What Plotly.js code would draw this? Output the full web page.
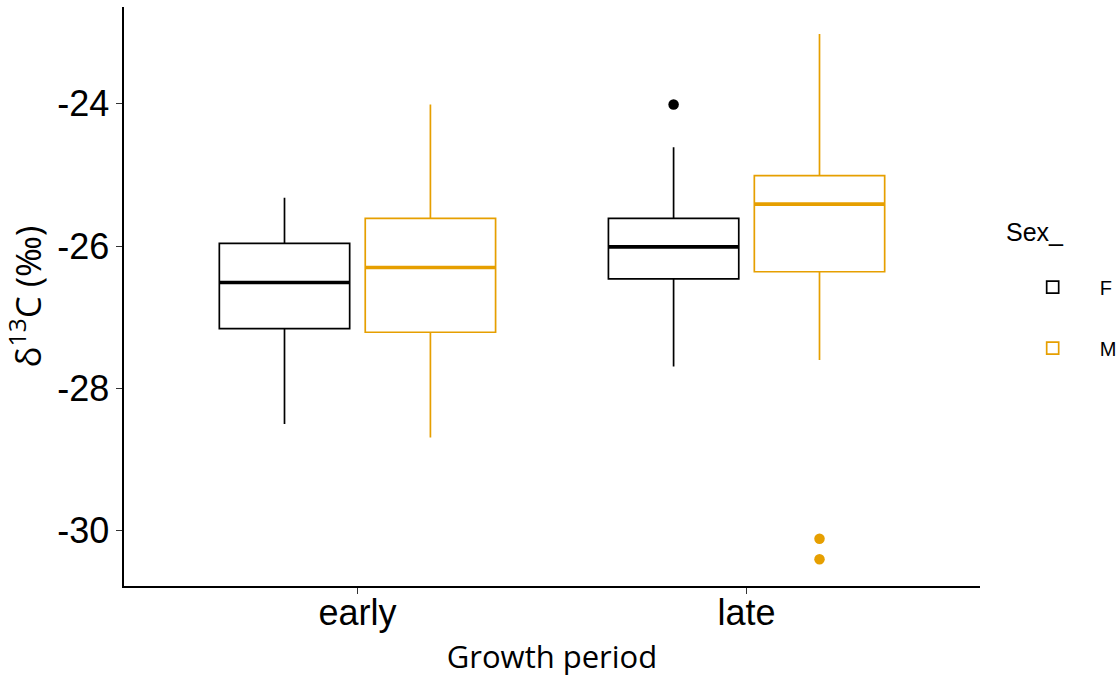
<!DOCTYPE html>
<html>
<head>
<meta charset="utf-8">
<script src="https://cdn.plot.ly/plotly-3.0.1.min.js"></script>
<style>html,body{margin:0;padding:0;background:#fff;}#chart{width:1119px;height:677px;}</style>
</head>
<body>
<div id="chart"></div>
<script>
// ---- data ----
const periods = ['early', 'late'];
const sexes = ['F', 'M'];

const q1F  = [-27.16, -26.46];
const medF = [-26.51, -26.01];
const q3F  = [-25.96, -25.61];
const loF  = [-28.50, -27.69];
const hiF  = [-25.32, -24.61];

const q1M  = [-27.21, -26.36];
const medM = [-26.30, -25.41];
const q3M  = [-25.61, -25.01];
const loM  = [-28.69, -27.60];
const hiM  = [-24.01, -23.02];

const outF_period = ['late'];
const outF_value  = [-24.01];
const outM_period = ['late', 'late'];
const outM_value  = [-30.11, -30.40];

const yTicks = [-30, -28, -26, -24];

// ---- styling ----
const colF = '#000000';
const colM = '#E69F00';
const dodge = 0.1875;
const boxW = 0.335;

function pos(p, sexIdx) {
  return periods.indexOf(p) + 1 + (sexIdx === 0 ? -dodge : dodge);
}

const groups = [
  {name: sexes[0], q1: q1F, med: medF, q3: q3F, lo: loF, hi: hiF, op: outF_period, ov: outF_value, col: colF},
  {name: sexes[1], q1: q1M, med: medM, q3: q3M, lo: loM, hi: hiM, op: outM_period, ov: outM_value, col: colM}
];

const traces = [];
groups.forEach((g, si) => {
  const xs = periods.map(p => pos(p, si));
  traces.push({
    type: 'box', name: g.name, legendgroup: g.name,
    x: xs, q1: g.q1, median: g.med, q3: g.q3, lowerfence: g.lo, upperfence: g.hi,
    width: boxW, boxpoints: false, whiskerwidth: 0,
    line: {color: g.col, width: 1.7}, fillcolor: 'rgba(255,255,255,0)',
    hoverinfo: 'skip'
  });
  // thicker median line (ggplot style)
  const mx = [], my = [];
  xs.forEach((x, i) => { mx.push(x - boxW / 2, x + boxW / 2, null); my.push(g.med[i], g.med[i], null); });
  traces.push({
    type: 'scatter', mode: 'lines', x: mx, y: my, legendgroup: g.name, showlegend: false,
    line: {color: g.col, width: 3.6}, hoverinfo: 'skip'
  });
  // outliers
  traces.push({
    type: 'scatter', mode: 'markers', legendgroup: g.name, showlegend: false,
    x: g.op.map(p => pos(p, si)), y: g.ov,
    marker: {color: g.col, size: 10.5, symbol: 'circle'}, hoverinfo: 'skip'
  });
});

const layout = {
  width: 1119, height: 677,
  margin: {l: 124, r: 139, t: 7, b: 91, pad: 0, autoexpand: false},
  paper_bgcolor: '#fff', plot_bgcolor: '#fff',
  font: {family: 'Liberation Sans, Arial, sans-serif', color: '#000'},
  showlegend: true,
  xaxis: {
    range: [0.4, 2.6], tickvals: [1, 2], ticktext: periods,
    showline: true, linecolor: '#000', linewidth: 1.6, mirror: false,
    ticks: 'outside', ticklen: 6, tickwidth: 1.2, tickcolor: '#333',
    ticklabelstandoff: -12,
    showgrid: false, zeroline: false,
    tickfont: {size: 36, color: '#000', family: 'Liberation Sans, Arial, sans-serif'},
    title: {text: 'Growth period', font: {size: 31, family: 'Open Sans, sans-serif', color: '#000'}, standoff: 16}
  },
  yaxis: {
    range: [-30.775, -22.64], tickvals: yTicks,
    ticktext: yTicks.map(String),
    showline: true, linecolor: '#000', linewidth: 1.6,
    ticks: 'outside', ticklen: 6, tickwidth: 1.2, tickcolor: '#333',
    showgrid: false, zeroline: false,
    tickfont: {size: 36, color: '#000', family: 'Liberation Sans, Arial, sans-serif'},
    title: {text: 'δ<sup>13</sup>C (‰)', font: {size: 35, family: 'Open Sans, sans-serif', color: '#000'}, standoff: 6}
  },
  legend: {
    x: 1.03, y: 0.55, xanchor: 'left', yanchor: 'top',
    font: {size: 20, color: '#000'},
    itemwidth: 84,
    traceorder: 'grouped', tracegroupgap: 32,
    bgcolor: 'rgba(0,0,0,0)'
  },
  annotations: [{
    text: 'Sex_', xref: 'paper', yref: 'paper', x: 1.028, y: 0.611,
    xanchor: 'left', yanchor: 'middle', showarrow: false,
    font: {size: 25, color: '#000', family: 'Liberation Sans, Arial, sans-serif'}
  }]
};

Plotly.newPlot('chart', traces, layout, {displayModeBar: false, staticPlot: true});
</script>
</body>
</html>
